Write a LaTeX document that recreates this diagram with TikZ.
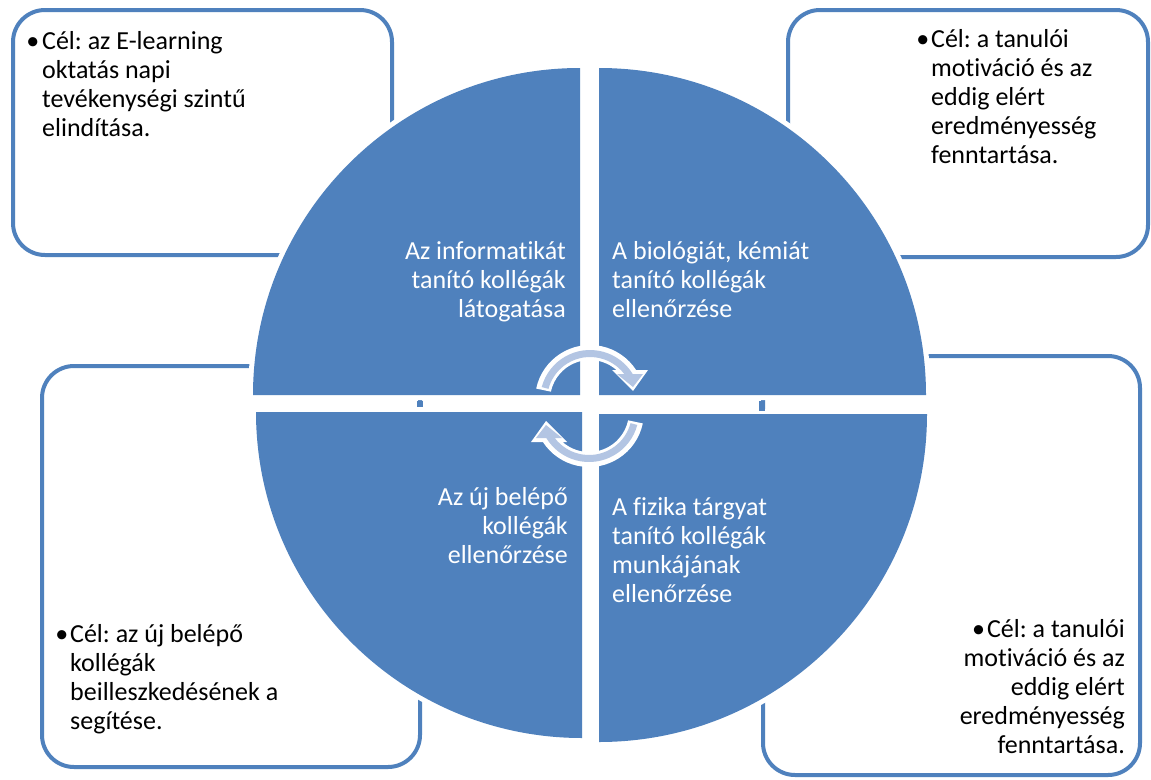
\documentclass[tikz,border=0pt]{standalone}
\usepackage{fontspec}
\setmainfont[Ligatures={NoCommon,NoRare,NoContextual}]{Carlito}
\frenchspacing
\definecolor{qblue}{HTML}{4F81BD}
\definecolor{alight}{HTML}{B3C5E3}
\tikzset{
  goalbox/.style={draw=qblue, line width=4pt, rounded corners=32pt},
  quadfill/.style={fill=qblue},
  quadedge/.style={draw=white, line width=10pt},
  boxtext/.style={inner sep=0pt, font=\fontsize{26}{29}\selectfont, text=black},
  quadtext/.style={inner sep=0pt, font=\fontsize{26}{29}\selectfont, text=white},
}
\begin{document}
\begin{tikzpicture}[x=1pt,y=-1pt]
\useasboundingbox (0,0) rectangle (1151,779);
\fill[white] (0,0) rectangle (1151,779);

% goal boxes
\draw[goalbox] (13,10) rectangle (392,255);
\draw[goalbox] (788,10) rectangle (1148,257);
\draw[goalbox] (42,366) rectangle (420,767);
\draw[goalbox] (763,356) rectangle (1140,775);

% white margins of the quadrants
\draw[quadedge] (580,395) -- (253,395) arc[start angle=180,end angle=270,radius=327] -- cycle;
\draw[quadedge] (599,395) -- (599,68) arc[start angle=270,end angle=360,radius=327] -- cycle;
\draw[quadedge] (599,414) -- (927,414) arc[start angle=0,end angle=90,radius=328] -- cycle;
\draw[quadedge] (582,412) -- (582,738) arc[start angle=90,end angle=180,radius=326] -- cycle;
% quadrants
\fill[quadfill] (580,395) -- (253,395) arc[start angle=180,end angle=270,radius=327] -- cycle;
\fill[quadfill] (599,395) -- (599,68) arc[start angle=270,end angle=360,radius=327] -- cycle;
\fill[quadfill] (599,414) -- (927,414) arc[start angle=0,end angle=90,radius=328] -- cycle;
\fill[quadfill] (582,412) -- (582,738) arc[start angle=90,end angle=180,radius=326] -- cycle;

% small marks
\fill[qblue] (417,401) rectangle (423,407);
\fill[qblue] (759,401) rectangle (765,411);

% circular arrows
\foreach \cx/\cy/\rot in {590/400/0, 589/412/180}{
  \begin{scope}[shift={(\cx,\cy)}, rotate=\rot]
    \fill[white] (192:55) arc[start angle=192, end angle={360-asin(30/55)}, radius=55]
      -- (58,-30) -- (43,-9) -- (22,-30) -- ({sqrt(40^2-30^2)},-30)
      arc[start angle={360-asin(30/40)}, end angle=192, radius=40] -- cycle;
    \fill[alight] (195:50) arc[start angle=195, end angle={360-asin(26/50)}, radius=50]
      -- (53,-26) -- (43,-13) -- (27,-26) -- ({sqrt(43^2-26^2)},-26)
      arc[start angle={360-asin(26/43)}, end angle=195, radius=43] -- cycle;
  \end{scope}
}

% quadrant texts
\node[quadtext, anchor=north east, align=right] (q1) at (566,237)
  {\rule{0pt}{22pt}Az informatikát\\tanító kollégák\\látogatása};
\node[quadtext, anchor=north west, align=left] (q2) at (612,237)
  {\rule{0pt}{22pt}A biológiát, kémiát\\tanító kollégák\\ellenőrzése};
\node[quadtext, anchor=north east, align=right] (q3) at (568,483)
  {\rule{0pt}{22pt}Az új belépő\\kollégák\\ellenőrzése};
\node[quadtext, anchor=north west, align=left] (q4) at (612,493)
  {\rule{0pt}{22pt}A fizika tárgyat\\tanító kollégák\\munkájának\\ellenőrzése};

% goal texts
\node[boxtext, anchor=north west, align=left] (g1) at (42,27)
  {\rule{0pt}{22pt}\llap{•\hspace{3pt}}Cél: az E-learning\\oktatás napi\\tevékenységi szintű\\elindítása.};
\node[boxtext, anchor=north west, align=left] (g2) at (931,25)
  {\rule{0pt}{22pt}\llap{•\hspace{2pt}}Cél: a tanulói\\motiváció és az\\eddig elért\\eredményesség\\fenntartása.};
\node[boxtext, anchor=north west, align=left] (g3) at (70,620)
  {\rule{0pt}{22pt}\llap{•\hspace{2pt}}Cél: az új belépő\\kollégák\\beilleszkedésének a\\segítése.};
\node[boxtext, anchor=north east, align=right] (g4) at (1125,615)
  {\rule{0pt}{22pt}•\hspace{2pt}Cél: a tanulói\\motiváció és az\\eddig elért\\eredményesség\\fenntartása.};
\end{tikzpicture}
\end{document}
